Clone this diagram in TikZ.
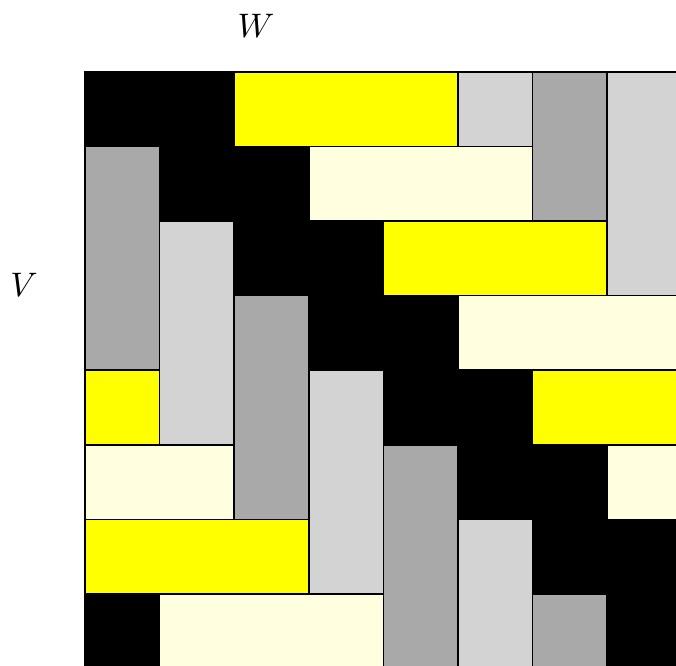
\documentclass[tikz,border=0pt]{standalone}
\definecolor{cY}{HTML}{FFFF00}
\definecolor{cLY}{HTML}{FFFFE0}
\definecolor{cDG}{HTML}{A9A9A9}
\definecolor{cLG}{HTML}{D3D3D3}
\newcommand{\cellblk}[5]{%
  \draw[blockline, fill=#5] ({85+74.6*(#1)},{72+74.55*(#2)}) rectangle ++({74.6*(#3)},{74.55*(#4)});}
\begin{document}
\begin{tikzpicture}[x=1pt,y=-1pt,
  blockline/.style={draw=black, line width=1.6pt},
  lbl/.style={scale=3.4, anchor=base, inner sep=0pt}]
\useasboundingbox (0,0) rectangle (676,665);
\clip (0,0) rectangle (676,665);
% black diagonal cells
\foreach \r in {0,...,7}{
  \pgfmathtruncatemacro{\cA}{\r}
  \pgfmathtruncatemacro{\cB}{mod(\r+1,8)}
  \cellblk{\cA}{\r}{1}{1}{black}
  \cellblk{\cB}{\r}{1}{1}{black}
}
% yellow horizontal blocks
\cellblk{2}{0}{3}{1}{cY}
\cellblk{4}{2}{3}{1}{cY}
\cellblk{6}{4}{3}{1}{cY}
\cellblk{0}{4}{1}{1}{cY}
\cellblk{0}{6}{3}{1}{cY}
% light yellow horizontal blocks
\cellblk{3}{1}{3}{1}{cLY}
\cellblk{5}{3}{3}{1}{cLY}
\cellblk{7}{5}{3}{1}{cLY}
\cellblk{0}{5}{2}{1}{cLY}
\cellblk{1}{7}{3}{1}{cLY}
% dark gray vertical blocks
\cellblk{0}{1}{1}{3}{cDG}
\cellblk{2}{3}{1}{3}{cDG}
\cellblk{4}{5}{1}{3}{cDG}
\cellblk{6}{7}{1}{3}{cDG}
\cellblk{6}{0}{1}{2}{cDG}
% light gray vertical blocks
\cellblk{1}{2}{1}{3}{cLG}
\cellblk{3}{4}{1}{3}{cLG}
\cellblk{5}{6}{1}{3}{cLG}
\cellblk{5}{0}{1}{1}{cLG}
\cellblk{7}{0}{1}{3}{cLG}
% labels
\node[lbl] (labW) at (256,37) {$W$};
\node[lbl] (labV) at (24,296) {$V$};
\end{tikzpicture}
\end{document}
